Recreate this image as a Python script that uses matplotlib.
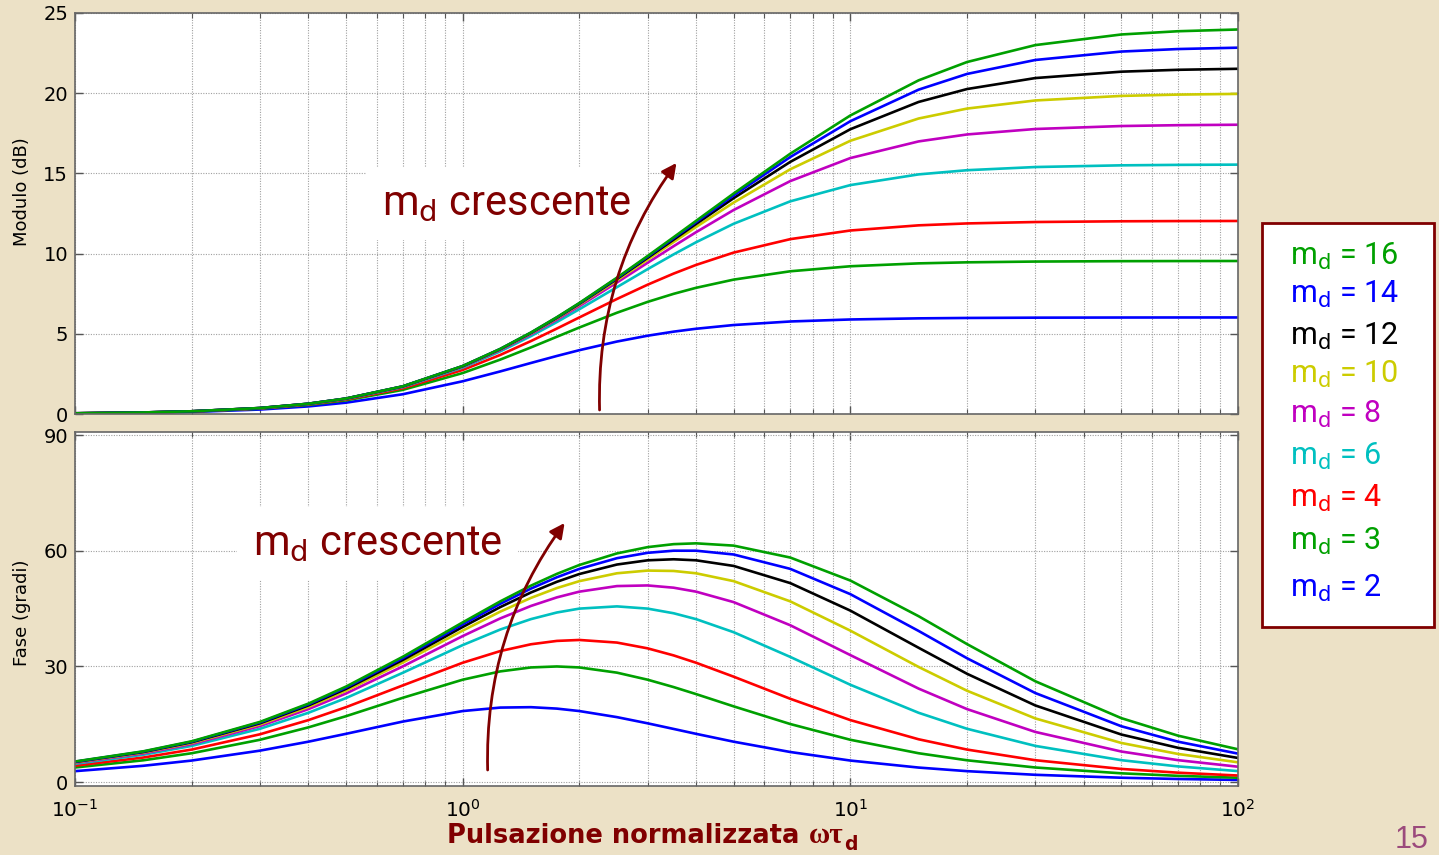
import matplotlib
matplotlib.use("Agg")
import matplotlib.pyplot as plt
from matplotlib.patches import Rectangle

plt.rcParams['font.family'] = 'DejaVu Sans'
plt.rcParams['mathtext.fontset'] = 'custom'
plt.rcParams['mathtext.rm'] = 'DejaVu Sans'
plt.rcParams['mathtext.it'] = 'DejaVu Sans:italic'
plt.rcParams['mathtext.bf'] = 'DejaVu Sans:bold'

# ---------------- data ----------------
freq = [0.1, 0.15, 0.2, 0.3, 0.4, 0.5, 0.7, 1, 1.25, 1.5, 1.75, 2, 2.5, 3, 3.5, 4, 5, 7,
        10, 15, 20, 30, 50, 70, 100]

m_values = [2, 3, 4, 6, 8, 10, 12, 14, 16]
colors = ['#0000FF', '#00A000', '#FF0000', '#00C0C0', '#C000C0',
          '#CCCC00', '#000000', '#0000FF', '#00A000']

mag_m2 = [0.032, 0.072, 0.127, 0.278, 0.474, 0.706, 1.230, 2.041, 2.654, 3.181, 3.619, 3.979, 4.517, 4.881, 5.134, 5.314, 5.547, 5.768, 5.893, 5.963, 5.988, 6.006, 6.015, 6.018, 6.019]
mag_m3 = [0.038, 0.086, 0.151, 0.331, 0.568, 0.850, 1.502, 2.553, 3.391, 4.150, 4.816, 5.393, 6.313, 6.990, 7.491, 7.867, 8.378, 8.898, 9.211, 9.391, 9.456, 9.504, 9.528, 9.535, 9.539]
mag_m4 = [0.041, 0.091, 0.160, 0.350, 0.601, 0.902, 1.601, 2.747, 3.682, 4.547, 5.327, 6.021, 7.171, 8.062, 8.753, 9.294, 10.063, 10.902, 11.440, 11.762, 11.881, 11.969, 12.015, 12.028, 12.034]
mag_m6 = [0.042, 0.094, 0.166, 0.364, 0.625, 0.939, 1.673, 2.891, 3.902, 4.856, 5.733, 6.532, 7.908, 9.031, 9.950, 10.707, 11.860, 13.259, 14.271, 14.938, 15.199, 15.397, 15.503, 15.532, 15.547]
mag_m8 = [0.043, 0.095, 0.168, 0.368, 0.634, 0.952, 1.699, 2.943, 3.982, 4.969, 5.885, 6.726, 8.199, 9.429, 10.461, 11.335, 12.718, 14.521, 15.956, 16.994, 17.428, 17.768, 17.953, 18.006, 18.034]
mag_m10 = [0.043, 0.096, 0.169, 0.370, 0.638, 0.958, 1.711, 2.967, 4.019, 5.022, 5.957, 6.819, 8.340, 9.626, 10.720, 11.659, 13.181, 15.258, 17.033, 18.422, 19.041, 19.547, 19.831, 19.913, 19.957]
mag_m12 = [0.043, 0.096, 0.169, 0.372, 0.640, 0.962, 1.717, 2.980, 4.040, 5.052, 5.997, 6.871, 8.419, 9.737, 10.867, 11.846, 13.455, 15.718, 17.753, 19.454, 20.259, 20.944, 21.342, 21.459, 21.522]
mag_m14 = [0.043, 0.096, 0.169, 0.372, 0.641, 0.964, 1.721, 2.988, 4.052, 5.069, 6.021, 6.902, 8.467, 9.805, 10.959, 11.963, 13.629, 16.021, 18.253, 20.221, 21.201, 22.071, 22.596, 22.753, 22.838]
mag_m16 = [0.043, 0.096, 0.170, 0.373, 0.642, 0.965, 1.724, 2.993, 4.060, 5.081, 6.036, 6.922, 8.499, 9.850, 11.019, 12.041, 13.746, 16.229, 18.611, 20.802, 21.944, 22.999, 23.661, 23.863, 23.972]

ph_m2 = [2.849, 4.242, 5.599, 8.168, 10.491, 12.529, 15.702, 18.435, 19.335, 19.440, 19.069, 18.435, 16.859, 15.255, 13.800, 12.529, 10.491, 7.815, 5.599, 3.781, 2.849, 1.905, 1.145, 0.819, 0.573]
ph_m3 = [3.802, 5.669, 7.496, 10.988, 14.206, 17.103, 21.858, 26.565, 28.720, 29.745, 29.999, 29.745, 28.393, 26.565, 24.656, 22.834, 19.654, 15.069, 10.988, 7.496, 5.669, 3.802, 2.288, 1.636, 1.145]
ph_m4 = [4.279, 6.383, 8.448, 12.410, 16.090, 19.440, 25.066, 30.964, 33.986, 35.754, 36.626, 36.870, 36.194, 34.695, 32.869, 30.964, 27.350, 21.615, 16.090, 11.117, 8.448, 5.686, 3.428, 2.452, 1.718]
ph_m6 = [4.756, 7.099, 9.401, 13.837, 17.987, 21.801, 28.338, 35.538, 39.572, 42.274, 43.995, 45.000, 45.579, 45.000, 43.799, 42.274, 38.884, 32.471, 25.253, 17.987, 13.837, 9.401, 5.697, 4.081, 2.861]
ph_m8 = [4.995, 7.457, 9.878, 14.551, 18.939, 22.989, 29.992, 37.875, 42.459, 45.690, 47.916, 49.399, 50.845, 51.009, 50.426, 49.399, 46.685, 40.684, 32.949, 24.258, 18.939, 13.022, 7.944, 5.702, 4.001]
ph_m10 = [5.138, 7.672, 10.164, 14.981, 19.510, 23.703, 30.988, 39.289, 44.215, 47.779, 50.329, 52.125, 54.163, 54.866, 54.765, 54.163, 52.125, 46.878, 39.289, 29.876, 23.703, 16.526, 10.164, 7.312, 5.138]
ph_m12 = [5.234, 7.815, 10.355, 15.267, 19.892, 24.179, 31.654, 40.236, 45.393, 49.185, 51.958, 53.973, 56.431, 57.529, 57.795, 57.529, 56.070, 51.614, 44.483, 34.846, 28.102, 19.892, 12.350, 8.910, 6.270]
ph_m14 = [5.302, 7.917, 10.491, 15.471, 20.164, 24.520, 32.130, 40.914, 46.238, 50.194, 53.130, 55.305, 58.074, 59.470, 60.019, 60.019, 59.036, 55.305, 48.751, 39.211, 32.130, 23.108, 14.496, 10.492, 7.396]
ph_m16 = [5.353, 7.994, 10.594, 15.625, 20.369, 24.775, 32.487, 41.424, 46.873, 50.954, 54.013, 56.310, 59.318, 60.945, 61.716, 61.928, 61.336, 58.241, 52.284, 43.034, 35.798, 26.163, 16.599, 12.057, 8.517]

magnitudes = [mag_m2, mag_m3, mag_m4, mag_m6, mag_m8, mag_m10, mag_m12, mag_m14, mag_m16]
phases = [ph_m2, ph_m3, ph_m4, ph_m6, ph_m8, ph_m10, ph_m12, ph_m14, ph_m16]

mag_ticks = [0, 5, 10, 15, 20, 25]
phase_ticks = [0, 30, 60, 90]

# ---------------- styling ----------------
BG = '#ECE1C6'
DR = '#800000'
W, H = 1439, 855
fig = plt.figure(figsize=(W / 100, H / 100), dpi=100, facecolor=BG)


def px_axes(left, top, right, bottom):
    return fig.add_axes([left / W, 1 - bottom / H, (right - left) / W, (bottom - top) / H])


ax1 = px_axes(75, 13, 1238, 414)
ax2 = px_axes(75, 432, 1238, 786)

for ax, data, yt in ((ax1, magnitudes, mag_ticks), (ax2, phases, phase_ticks)):
    ax.set_facecolor('white')
    ax.set_xscale('log')
    ax.set_xlim(0.1, 100)
    for vals, c in zip(data, colors):
        ax.plot(freq, vals, color=c, lw=1.9, solid_capstyle='butt', solid_joinstyle='round')
    ax.set_yticks(yt)
    ax.grid(True, which='major', axis='both', ls=(0, (1, 1.3)), color='#A0A0A0', lw=0.8)
    ax.grid(True, which='minor', axis='x', ls=(0, (1, 1.3)), color='#A0A0A0', lw=0.8)
    ax.tick_params(which='both', direction='in', top=True, right=True, colors='#555555',
                   labelcolor='black', labelsize=14)
    ax.tick_params(which='major', length=6, width=1, pad=5)
    ax.tick_params(which='minor', length=3.5, width=0.8)
    for s in ax.spines.values():
        s.set_color('#666666')
        s.set_linewidth(1.2)

ax1.set_ylim(0, 25)
ax2.set_ylim(-1.0, 90.8)
ax1.tick_params(axis='x', which='both', labelbottom=False)
ax2.tick_params(axis='x', which='major', pad=9, labelsize=14.5)

fig.text(22 / W, 1 - 192 / H, 'Modulo (dB)', rotation=90, ha='center', va='center', fontsize=13)
fig.text(22 / W, 1 - 613 / H, 'Fase (gradi)', rotation=90, ha='center', va='center', fontsize=13)

# x label built from pieces: sans bold text + serif greek + subscript
renderer = fig.canvas.get_renderer()
base_y = 1 - 843 / H
t1 = fig.text(447 / W, base_y, 'Pulsazione normalizzata', ha='left', va='baseline',
              fontsize=18.5, fontweight='bold', color=DR)
bb1 = t1.get_window_extent(renderer)
t2 = fig.text((bb1.x1 + 9) / W, base_y, 'ωτ', ha='left', va='baseline', fontsize=21,
              family='Liberation Serif', fontweight='bold', color=DR)
bb2 = t2.get_window_extent(renderer)
fig.text((bb2.x1 + 1) / W, base_y - 7 / H, 'd', ha='left', va='baseline', fontsize=13.5,
         fontweight='bold', color=DR)

fig.text(1412 / W, 1 - 848 / H, '15', ha='center', va='baseline', fontsize=22,
         family='Liberation Sans', color='#9B4A7C')

# annotations
box = dict(facecolor='white', edgecolor='none', boxstyle='square,pad=0.38')
ax1.text(0.618, 12.41, r'm$_{\mathrm{d}}$ crescente', fontsize=30, family='Roboto', color=DR,
         ha='left', va='baseline', bbox=box, zorder=5)
ax2.text(0.2876, 58.9, r'm$_{\mathrm{d}}$ crescente', fontsize=30, family='Roboto', color=DR,
         ha='left', va='baseline', bbox=box, zorder=5)

arrow = dict(arrowstyle='-|>', color=DR, lw=2.0, mutation_scale=22,
             connectionstyle='arc3,rad=-0.17', shrinkA=0, shrinkB=0)
ax1.annotate('', xy=(3.56, 15.65), xytext=(2.255, 0.25), arrowprops=arrow, zorder=6)
ax2.annotate('', xy=(1.832, 67.2), xytext=(1.16, 3.15), arrowprops=arrow, zorder=6)

# legend box
fig.patches.append(Rectangle((1262 / W, 1 - 627 / H), (1434 - 1262) / W, (627 - 223) / H,
                             transform=fig.transFigure, facecolor='white', edgecolor=DR,
                             lw=2.0, zorder=1))
baselines = {16: 265, 14: 303, 12: 345, 10: 383, 8: 423, 6: 465, 4: 507, 3: 550, 2: 597}
for m, c in zip(m_values, colors):
    fig.text(1290 / W, 1 - baselines[m] / H, r'm$_{\mathrm{d}}$ = %d' % m, color=c,
             fontsize=22, family='Roboto', ha='left', va='baseline', zorder=3)

fig.savefig('out.png', dpi=100, facecolor=BG)
